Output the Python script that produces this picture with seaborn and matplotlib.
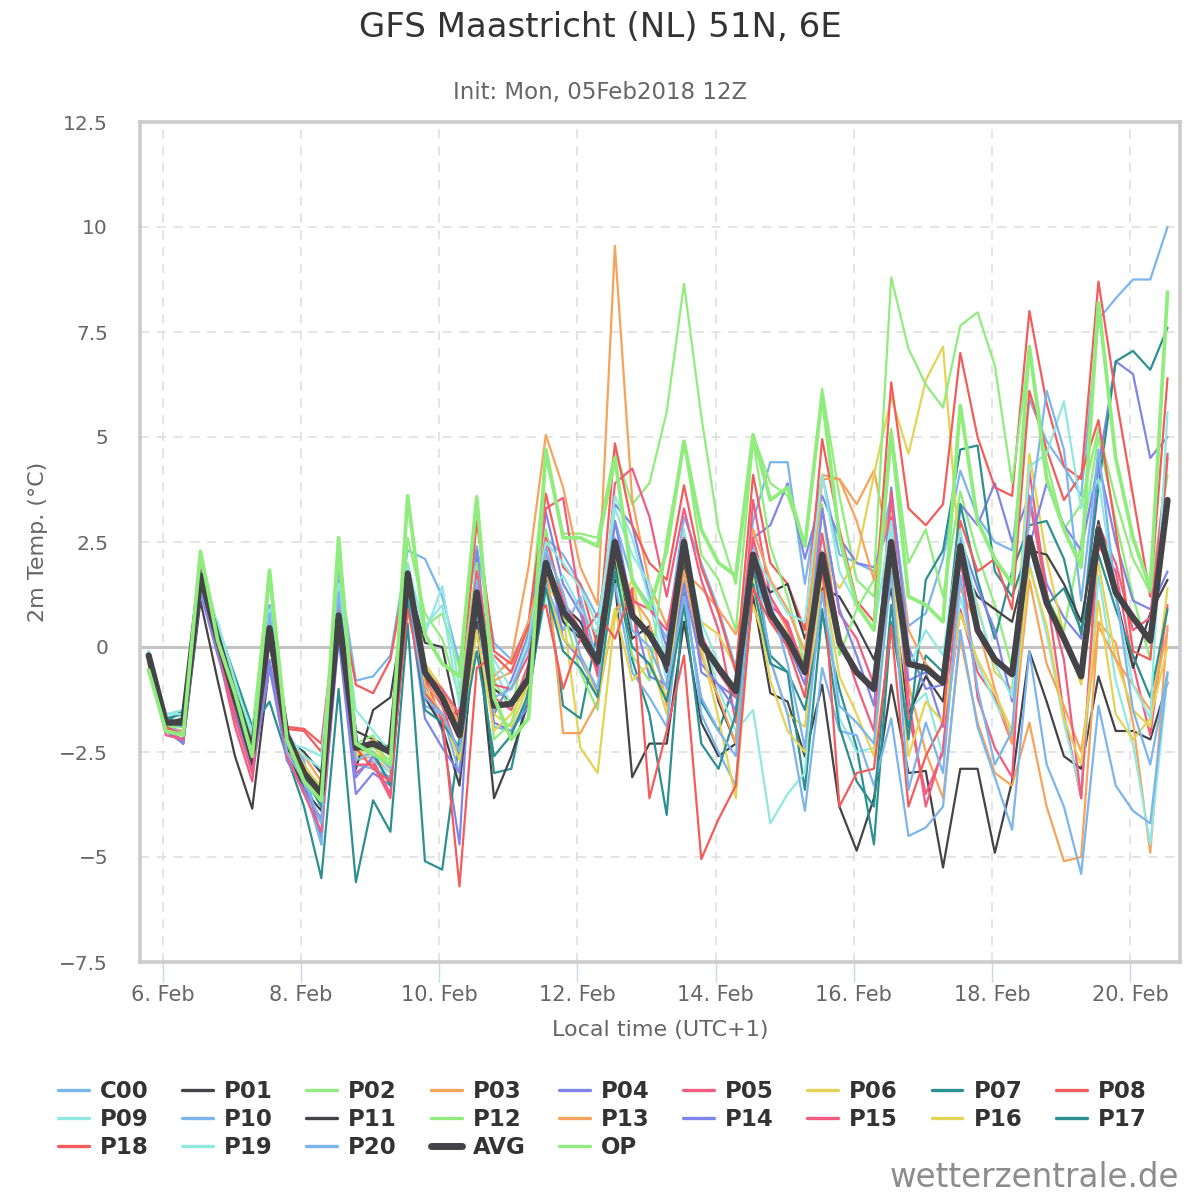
import numpy as np
import pandas as pd
import matplotlib
matplotlib.use("Agg")
import matplotlib.pyplot as plt
import matplotlib.dates as mdates
from matplotlib.lines import Line2D
from matplotlib.ticker import FuncFormatter, MultipleLocator
import seaborn as sns
from datetime import datetime

# 6-hourly time steps, local time (UTC+1), 5 Feb 19:00 .. 20 Feb 13:00
times = pd.date_range("2018-02-05 19:00", periods=60, freq="6h")

# 2m temperature per ensemble member
c00 = [-0.3, -1.7, -1.6, 1.9, 0.5, -0.8, -2.2, 1.0, -2.0, -2.7, -4.7, 1.9, -0.8, -0.7, -0.2,
       2.3, 2.1, 1.2, -0.4, 2.4, 0.1, -0.3, 0.5, 2.6, 2.2, 1.5, 0.7, 3.0, 1.6, 1.0,
       0.2, 3.1, 2.0, 0.9, -0.5, 3.0, 4.4, 4.4, 1.5, 4.1, 2.2, 2.0, 1.8, 3.6, 0.5,
       0.8, 2.1, 4.2, 3.1, 2.5, 2.3, 5.9, 4.9, 4.3, 3.6, 7.8, 8.3, 8.75, 8.75, 10.0]
p01 = [-0.2, -1.9, -2.3, 1.1, -0.8, -2.6, -3.85, -0.4, -2.2, -2.5, -3.0, 1.5, -2.0, -2.2, -2.4,
       1.6, 0.1, 0.0, -1.9, 1.5, -1.0, -1.3, -0.6, 2.1, 1.0, 0.6, -0.3, 1.6, -3.1, -2.3,
       -2.3, 0.6, -1.8, -2.6, -2.3, 1.2, -1.1, -1.3, -2.6, -0.9, -3.8, -4.85, -3.6, -0.9, -3.0,
       -2.95, -5.25, -2.9, -2.9, -4.9, -3.2, -0.1, -1.3, -2.6, -2.9, -0.7, -2.0, -2.0, -2.2, -0.85]
p02 = [-0.5, -1.95, -2.0, 2.3, 0.4, -0.9, -2.0, 1.8, -2.0, -3.2, -3.7, 2.5, -2.3, -2.1, -2.9,
       3.55, 0.5, 0.8, -0.5, 3.6, -0.8, -1.5, 0.4, 4.5, 2.7, 2.7, 2.6, 4.7, 3.4, 3.9,
       5.6, 8.65, 5.5, 2.8, 1.5, 5.05, 3.9, 3.6, 2.4, 6.15, 3.6, 1.6, 1.2, 5.2, 2.0,
       2.8, 1.2, 3.7, 2.2, 1.0, -0.5, 3.6, 1.2, 0.4, 2.5, 5.0, 3.0, 1.2, -0.3, 4.6]
p03 = [-0.3, -1.9, -2.0, 1.6, 0.3, -1.0, -2.4, 0.5, -2.3, -2.6, -3.2, 1.2, -2.7, -2.6, -3.0,
       1.2, -0.4, -1.0, -1.8, 1.0, -0.7, -0.3, 1.9, 5.05, 3.8, 1.9, 1.0, 9.55, 3.5, 1.5,
       0.5, 1.8, 1.4, 0.9, 0.3, 1.7, 1.2, 0.4, -0.4, 4.1, 4.0, 3.4, 4.2, 2.2, -0.9,
       -2.5, -3.6, 0.2, -1.8, -3.0, -3.3, -1.8, -3.8, -5.1, -5.0, 0.6, 0.1, -1.8, -4.9, 0.5]
p04 = [-0.2, -2.0, -2.2, 1.5, 0.0, -1.5, -2.9, -0.3, -2.5, -3.1, -4.5, 0.2, -3.5, -3.0, -3.3,
       1.0, -0.9, -2.0, -4.7, 2.3, -1.6, -0.8, 0.3, 3.2, 1.5, 0.8, -0.6, 3.4, 2.9, 1.2,
       0.0, 2.3, -0.6, -0.9, -1.2, 2.6, 2.9, 3.9, 2.1, 3.6, 2.6, 2.0, 1.9, 3.0, -0.8,
       -0.6, -1.9, 3.4, 2.9, 3.9, 2.5, 3.6, 1.5, 0.7, 0.2, 4.3, 6.8, 6.5, 4.5, 5.0]
p05 = [-0.4, -1.9, -2.3, 1.4, -0.1, -1.9, -3.2, 0.3, -2.4, -3.3, -4.2, 0.9, -3.0, -2.7, -3.5,
       1.3, -0.8, -1.4, -2.6, 2.0, -1.2, -1.5, -0.4, 3.3, 3.55, 1.0, -0.7, 3.9, 4.25, 3.1,
       1.2, 3.3, 1.6, 0.4, -1.8, 3.5, 1.2, 0.5, -0.6, 3.3, 0.8, 0.2, -0.9, 3.1, -1.2,
       -3.8, -2.4, 0.9, -0.6, -1.2, -2.3, 4.2, 1.3, -1.6, -3.6, 2.4, 1.8, -0.4, -2.1, 1.0]
p06 = [-0.3, -1.7, -1.9, 1.8, 0.4, -0.9, -2.1, 0.7, -2.2, -2.8, -3.4, 1.4, -2.6, -2.5, -2.8,
       1.5, -0.4, -1.0, -2.2, 0.8, -1.6, -1.9, -0.9, 1.6, 0.8, -2.4, -3.0, 0.7, 1.6, -0.2,
       -1.6, 1.2, 0.6, 0.3, -0.5, 1.0, -0.3, -1.6, -1.9, 2.0, 1.4, 2.1, 4.1, 5.95, 4.6,
       6.35, 7.15, 2.0, 1.0, -0.6, -1.0, 4.6, 2.1, 0.3, -0.9, 2.0, -0.3, -1.5, -1.9, 1.4]
p07 = [-0.2, -1.8, -1.5, 1.6, 0.5, -0.7, -1.9, -1.3, -2.6, -3.8, -5.5, -1.0, -5.6, -3.65, -4.4,
       0.56, -5.1, -5.3, -2.2, 0.6, -3.0, -2.9, -1.0, 1.6, -1.4, -1.7, 0.4, 2.0, -0.3, -1.6,
       -4.0, 1.3, -1.3, -2.0, -0.8, 1.9, -0.2, -0.6, -3.4, 0.8, -1.0, -2.4, -4.7, 0.6, -1.9,
       -0.2, -0.6, 3.4, 1.6, 0.2, 1.8, 2.9, 3.0, 2.1, 0.3, 3.8, 6.8, 7.05, 6.6, 7.6]
p08 = [-0.3, -1.8, -1.9, 1.9, 0.3, -1.1, -2.3, 0.6, -1.9, -1.95, -2.3, 1.3, -0.9, -1.1, -0.3,
       2.0, -0.7, -1.8, -1.5, 3.0, -0.1, -0.4, 0.6, 3.65, 1.9, 1.5, 0.0, 4.85, 2.9, 2.0,
       1.6, 3.85, 1.9, 0.8, -0.6, 4.1, 2.0, 1.5, 0.4, 4.95, 2.8, 1.1, 0.6, 6.3, 3.3,
       2.9, 3.4, 7.0, 5.0, 3.8, 3.6, 8.0, 5.8, 4.3, 4.0, 8.7, 6.0, 3.6, 1.2, 6.4]
p09 = [-0.1, -1.6, -1.5, 1.4, 0.6, -0.8, -2.2, 0.8, -2.1, -2.6, -2.9, 1.0, -2.2, -2.7, -3.0,
       2.0, 0.3, 1.45, -1.0, 1.5, -0.5, -1.4, -0.9, 1.2, 1.7, 0.9, 0.3, 3.6, 2.6, 1.1,
       -0.8, 2.8, 0.4, -1.0, -2.0, -1.5, -4.2, -3.5, -3.0, 2.3, -1.7, -2.5, -2.4, 2.9, -1.5,
       -1.1, -2.6, 1.2, -0.4, -1.3, -2.1, 2.0, 0.3, -1.8, -3.5, 1.7, -0.8, -2.3, -4.7, -0.7]
p10 = [-0.3, -1.8, -2.1, 1.5, 0.1, -1.3, -2.7, 1.0, -2.6, -3.3, -4.7, 1.6, -2.8, -2.9, -3.1,
       1.1, -1.4, -1.6, -3.0, 0.9, -1.9, -2.0, -1.2, 1.5, 0.4, 1.2, -0.4, 1.5, -0.6, -1.2,
       -1.9, 1.6, -1.6, -2.5, -3.3, 2.4, -0.3, -1.6, -3.9, -0.5, -2.0, -2.1, -3.3, -1.7, -4.5,
       -4.3, -3.8, 0.4, -1.9, -3.1, -4.35, -0.1, -2.8, -3.8, -5.4, -1.4, -3.3, -3.9, -4.2, -0.6]
p11 = [-0.3, -1.8, -1.7, 1.3, 0.2, -1.4, -2.8, 0.1, -2.4, -3.4, -3.9, 0.6, -2.9, -1.5, -1.2,
       1.4, -1.2, -1.9, -3.3, 0.6, -3.6, -2.6, -1.3, 1.9, 0.6, 0.2, -0.5, 2.1, 0.2, 0.5,
       -0.6, 2.0, 0.3, -1.3, -2.3, 1.9, 1.3, 1.5, 0.2, 1.4, 1.2, 0.5, -0.3, 1.4, -1.6,
       -0.7, -1.3, 2.0, 1.2, 0.9, 0.6, 2.3, 2.2, 1.5, 0.6, 3.0, 1.2, -0.5, 0.8, 1.6]
p12 = [-0.4, -1.9, -1.9, 2.1, 0.2, -1.1, -2.4, 1.6, -2.2, -3.0, -3.3, 2.2, -2.5, -2.4, -2.7,
       2.6, 0.8, 0.2, -1.2, 2.0, -2.2, -1.8, -0.5, 2.8, 0.9, -0.6, -1.5, 2.3, -0.2, -0.8,
       2.6, 4.9, 2.2, 1.6, 0.4, 4.9, 2.4, 1.2, -0.4, 3.4, -0.2, 0.9, 1.6, 8.8, 7.1,
       6.25, 5.7, 7.65, 7.97, 6.7, 3.9, 7.1, 4.4, 2.8, 3.4, 5.2, 3.5, 2.1, 1.3, 4.1]
p13 = [-0.2, -2.0, -2.1, 1.7, 0.1, -1.3, -2.6, 0.2, -2.5, -2.9, -3.6, 0.9, -2.5, -2.2, -2.6,
       1.8, -0.9, -1.3, -1.8, 1.2, -0.8, -0.6, 0.6, 2.2, -2.05, -2.05, -1.3, 0.9, 1.2, 0.6,
       -1.4, 1.8, -0.2, -1.2, -2.3, 2.8, 1.6, 0.9, -0.1, 4.0, 4.0, 3.0, 1.6, 3.4, 0.4,
       -0.4, -0.8, 1.4, 0.5, -1.0, -2.3, 1.6, -0.4, -1.4, -2.5, 0.5, -0.3, -0.9, -1.5, 0.4]
p14 = [-0.3, -2.0, -2.3, 1.3, -0.2, -1.6, -3.0, -0.5, -2.7, -3.4, -4.1, 0.4, -3.1, -2.6, -3.2,
       1.2, -1.7, -2.4, -3.0, 1.0, -1.8, -2.0, -1.4, 2.4, 0.2, -0.3, -1.1, 3.0, 0.9, -0.7,
       -0.9, 1.5, -0.4, -0.9, -1.5, 2.0, 0.6, 0.1, -0.9, 3.3, 0.9, -0.2, -1.4, 3.8, 0.0,
       -1.0, -0.9, 2.6, 1.4, 0.4, -1.3, 2.4, 3.9, 2.9, 2.3, 4.4, 2.5, 1.1, 0.9, 1.8]
p15 = [-0.4, -2.1, -2.2, 1.5, 0.0, -1.7, -3.0, 0.2, -2.6, -3.5, -4.4, 0.5, -2.8, -2.8, -3.6,
       1.6, -0.6, -1.0, -1.6, 1.8, -0.9, -1.0, -0.2, 2.6, 1.1, 0.4, -0.6, 2.5, 1.1, 0.9,
       0.4, 2.6, 0.3, -0.6, -1.2, 2.6, 1.0, 0.6, -0.6, 2.7, 0.3, -0.9, -2.0, 3.7, -1.6,
       -3.5, -2.5, 2.2, -1.2, -2.4, -3.1, 3.5, 1.3, -0.3, -3.6, 2.9, 2.0, 0.4, 0.7, 4.6]
p16 = [-0.2, -1.8, -1.8, 1.7, 0.3, -1.0, -2.3, 0.6, -2.3, -2.9, -3.3, 1.1, -2.6, -2.3, -2.9,
       1.3, -1.0, -1.6, -2.7, 0.4, -2.0, -1.6, -0.9, 1.4, 0.2, -0.2, -1.2, 0.9, -0.8, -0.4,
       -1.2, 2.2, 0.0, -1.7, -3.6, 1.6, -0.8, -2.0, -2.5, 1.8, -0.7, -1.6, -2.6, 2.2, -2.6,
       -1.3, -1.8, 0.8, -0.3, -1.1, -2.0, 1.9, 0.5, -1.7, -2.8, 1.1, -1.6, -2.2, -1.7, 0.0]
p17 = [-0.2, -1.7, -1.6, 1.8, 0.4, -1.0, -2.3, 0.3, -2.3, -3.1, -3.8, 0.7, -2.4, -2.5, -3.3,
       1.2, -1.5, -1.8, -2.4, -0.1, -2.6, -2.1, -1.1, 1.4, -0.1, -0.5, -1.2, 1.8, 0.0, -0.4,
       -1.3, 1.0, -2.3, -2.9, -1.6, 1.5, -0.4, -0.6, -1.5, 0.9, -1.9, -3.2, -3.8, 1.0, -2.2,
       1.6, 2.3, 4.7, 4.8, 1.8, 1.2, 2.4, 1.0, 1.4, 0.4, 2.2, 0.9, -0.2, -1.2, 0.9]
p18 = [-0.3, -1.9, -2.1, 1.6, 0.1, -1.4, -2.6, 0.4, -1.95, -2.0, -2.5, 1.0, -2.4, -2.9, -3.2,
       0.9, -1.1, -1.6, -5.7, -0.5, -0.2, -0.6, 0.5, 1.0, -1.0, 0.2, 0.8, 0.2, 1.4, -3.6,
       -2.0, -0.2, -5.05, -4.1, -3.3, 1.4, 0.6, 0.0, -1.2, 2.0, -3.8, -3.0, -2.9, 0.5, -3.8,
       -2.6, -1.8, 3.0, 1.8, 2.1, 0.9, 6.1, 4.7, 3.5, 4.1, 5.4, 2.8, -0.1, -0.3, 4.5]
p19 = [-0.1, -1.6, -1.6, 1.6, 0.5, -0.9, -2.0, 0.9, -2.3, -2.4, -2.6, 1.5, -1.5, -2.0, -2.5,
       1.8, 0.5, 1.0, -1.4, 1.1, -0.3, -1.0, 0.2, 2.5, 2.0, 1.4, 0.5, 3.3, 2.2, 1.5,
       -0.4, 2.4, 0.6, -0.4, -1.1, 2.3, 1.5, 0.8, 0.6, 4.1, 1.8, 1.0, 0.4, 3.0, -0.5,
       0.4, -0.2, 2.8, 0.9, -0.4, -1.2, 4.3, 4.6, 5.85, 3.3, 4.0, 1.2, -0.9, -1.7, 5.6]
p20 = [-0.3, -1.8, -1.9, 1.4, 0.2, -1.2, -2.6, 0.8, -2.5, -3.2, -4.2, 1.3, -2.7, -2.5, -2.9,
       1.4, -1.2, -1.6, -2.5, 1.6, -1.2, -1.0, 0.0, 2.3, 1.3, -0.2, -1.0, 2.6, 0.4, 0.0,
       -1.0, 1.2, -1.2, -2.0, -2.6, 2.2, 1.1, -0.4, -2.4, 1.3, -1.4, -1.8, -2.3, 1.8, -3.4,
       -1.8, -3.0, 1.7, -1.0, -2.8, -2.0, 3.1, 6.1, 4.7, 1.1, 4.7, 1.3, -1.5, -2.8, -0.6]
avg = [-0.2, -1.8, -1.8, 1.7, 0.2, -1.2, -2.5, 0.45, -2.1, -3.0, -3.5, 0.75, -2.4, -2.3, -2.5,
       1.75, -0.6, -1.2, -2.1, 1.3, -1.4, -1.35, -0.75, 2.0, 0.85, 0.35, -0.35, 2.5, 0.75, 0.3,
       -0.4, 2.5, 0.1, -0.5, -1.05, 2.2, 0.8, 0.2, -0.6, 2.2, 0.1, -0.6, -1.0, 2.5, -0.4,
       -0.5, -0.85, 2.4, 0.4, -0.3, -0.65, 2.6, 1.05, 0.2, -0.7, 2.8, 1.3, 0.7, 0.15, 3.5]
op = [-0.55, -2.0, -2.1, 2.27, 0.15, -1.1, -2.6, 1.83, -2.2, -3.2, -3.66, 2.6, -2.3, -2.55, -2.8,
      3.6, 0.3, -0.4, -0.7, 3.55, -1.2, -2.2, -1.7, 4.7, 2.6, 2.6, 2.4, 4.5, 1.6, 0.9,
      2.3, 4.9, 2.8, 2.0, 1.7, 5.05, 3.5, 3.8, 2.4, 6.0, 2.6, 1.0, 0.4, 5.1, 1.2,
      1.0, 0.6, 5.75, 3.0, 2.1, 1.5, 7.15, 4.0, 2.8, 1.9, 8.2, 4.5, 2.6, 1.4, 8.45]

names = ["C00", "P01", "P02", "P03", "P04", "P05", "P06", "P07", "P08", "P09",
         "P10", "P11", "P12", "P13", "P14", "P15", "P16", "P17", "P18", "P19", "P20",
         "AVG", "OP"]
series = [c00, p01, p02, p03, p04, p05, p06, p07, p08, p09,
          p10, p11, p12, p13, p14, p15, p16, p17, p18, p19, p20, avg, op]

base_colors = ["#7cb5ec", "#434348", "#90ed7d", "#f7a35c", "#8085e9",
               "#f15c80", "#e4d354", "#2b908f", "#f45b5b", "#91e8e1"]
colors = [base_colors[i % 10] for i in range(21)] + ["#434348", "#90ed7d"]
widths = [1.6] * 21 + [4.5, 2.7]

sns.set_theme(style="white")
plt.rcParams["font.family"] = ["DejaVu Sans"]

fig = plt.figure(figsize=(12, 12), dpi=100)
ax = fig.add_axes([140 / 1200, 1 - 962 / 1200, 1040 / 1200, 840 / 1200])

df = pd.DataFrame({"time": np.tile(times, len(names)),
                   "temp": np.concatenate(series),
                   "member": np.repeat(names, len(times))})

for name, col, lw in zip(names, colors, widths):
    sub = df[df["member"] == name]
    sns.lineplot(data=sub, x="time", y="temp", color=col, linewidth=lw,
                 ax=ax, legend=False, zorder=3 if name not in ("AVG", "OP") else 4)

# zero plot line
ax.axhline(0, color="#c4c4c4", lw=2.2, zorder=2)

# axes, grid
ax.set_xlim(datetime(2018, 2, 5, 16, 0), datetime(2018, 2, 20, 17, 20))
ax.set_ylim(-7.5, 12.5)
ax.yaxis.set_major_locator(MultipleLocator(2.5))
ax.yaxis.set_major_formatter(FuncFormatter(lambda v, p: ("%g" % v).replace("-", "\u2212")))
ax.xaxis.set_major_locator(mdates.DayLocator(bymonthday=[6, 8, 10, 12, 14, 16, 18, 20]))
ax.xaxis.set_major_formatter(mdates.DateFormatter("%-d. %b"))
ax.grid(True, color="#dddddd", linestyle=(0, (6, 5)), linewidth=1.1, zorder=0)
ax.tick_params(axis="y", length=0, labelsize=14.5, labelcolor="#666666", pad=23)
ax.tick_params(axis="x", length=14.5, width=1, color="#ccd6eb", direction="out",
               bottom=True, labelsize=15, labelcolor="#666666", pad=2)
for sp in ax.spines.values():
    sp.set_color("#cccccc")
    sp.set_linewidth(2.6)

ax.set_xlabel("Local time (UTC+1)", fontsize=16, color="#666666", labelpad=11)
ax.set_ylabel("2m Temp. (\u00b0C)", fontsize=16, color="#666666", labelpad=8)

fig.text(0.5, 0.977, "GFS Maastricht (NL) 51N, 6E", ha="center", va="center",
         fontsize=24.5, color="#333333")
fig.text(0.5, 0.923, "Init: Mon, 05Feb2018 12Z", ha="center", va="center",
         fontsize=16.5, color="#666666")

# legend laid out row by row (matplotlib fills columns)
handles = [Line2D([0], [0], color=c, lw=(5 if n == "AVG" else 2.4)) for n, c in zip(names, colors)]
order = []
ncol = 9
for col in range(ncol):
    for row in range(3):
        k = row * ncol + col
        if k < len(names):
            order.append(k)
leg = fig.legend([handles[k] for k in order], [names[k] for k in order],
                 loc="upper left", bbox_to_anchor=(58 / 1200, 1 - 1080 / 1200), ncol=ncol,
                 frameon=False, borderpad=0, borderaxespad=0,
                 handlelength=1.35, handletextpad=0.48,
                 columnspacing=1.46, labelspacing=0.22,
                 prop={"weight": "bold", "size": 16.5})
for t in leg.get_texts():
    t.set_color("#333333")

fig.text(0.983, 0.019, "wetterzentrale.de", ha="right", va="center",
         fontsize=23.5, color="#8c8c8c")

fig.savefig("out.png", dpi=100)
